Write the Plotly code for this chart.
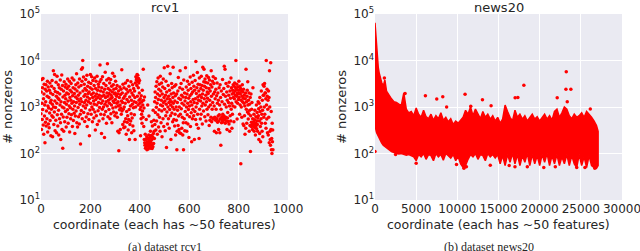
import plotly.graph_objects as go

# ---------------- data: rcv1 (nonzeros per coordinate, coordinate = index) ----------------
rcv1_nonzeros = [
    720, 2100, 330, 3900, 1200, 540, 2600, 880, 4100, 410, 1500, 260, 1900, 3100, 640, 1100, 170, 2400, 470, 1300,
    3000, 390, 820, 2200, 560, 1700, 3600, 290, 1050, 2700, 430, 950, 1600, 360, 2300, 740, 3300, 510, 1250, 2000,
    240, 1400, 900, 2800, 650, 3700, 1150, 230, 1850, 600, 6000, 1000, 420, 2500, 780, 5000, 1350, 310, 2150, 970,
    520, 3400, 1700, 280, 1200, 4600, 680, 2050, 390, 1550, 3000, 850, 250, 1450, 2600, 560, 1900, 1100, 3800, 460,
    200, 1300, 2400, 700, 4900, 330, 1000, 2900, 130, 1650, 610, 2200, 300, 950, 3500, 1250, 480, 1800, 2700, 800,
    1500, 3100, 370, 1150, 2000, 600, 2500, 870, 4000, 1350, 450, 1900, 2800, 720, 1050, 3600, 290, 1600, 2300, 960,
    560, 1400, 3200, 680, 2100, 1200, 4200, 380, 1750, 890, 2600, 510, 1300, 3800, 730, 1950, 1050, 270, 2450, 640,
    1650, 3000, 820, 1250, 5200, 460, 2200, 1500, 370, 3300, 980, 1800, 620, 2700, 1350, 430, 4000, 1150, 2000, 700,
    160, 1500, 2900, 840, 6500, 1300, 3600, 560, 7000, 10000, 2200, 1050, 4400, 760, 1700, 3100, 1250, 490, 2500, 1850,
    950, 3900, 1400, 610, 2300, 1100, 4800, 380, 1650, 2800, 720, 1950, 1300, 3400, 540, 2100, 240, 1500, 860, 2600,
    5000, 1200, 3200, 700, 1850, 4500, 1000, 2400, 480, 1600, 3700, 900, 2000, 1350, 580, 2900, 1150, 4200, 780, 1700,
    320, 2500, 1450, 3600, 650, 1900, 1100, 4600, 420, 2300, 1600, 830, 3100, 1250, 2700, 500, 1800, 980, 3500, 8000,
    1500, 2200, 700, 3900, 1200, 270, 2600, 1700, 900, 4500, 1350, 560, 2100, 1000, 3200, 1800, 680, 220, 2400, 1150,
    5600, 1600, 800, 2900, 1300, 450, 3800, 2000, 1050, 8500, 1700, 620, 2500, 1400, 4100, 880, 1950, 1200, 3300, 560,
    2300, 1500, 3900, 720, 1800, 1100, 2800, 460, 1600, 2100, 5300, 950, 1350, 3000, 780, 2400, 1250, 4600, 1900, 650,
    2000, 1450, 3600, 1000, 2500, 740, 1700, 1200, 2900, 600, 1900, 300, 1300, 1050, 2200, 115, 280, 1600, 870, 2700,
    1100, 330, 1850, 950, 2400, 700, 1350, 6300, 820, 2000, 1250, 420, 3100, 900, 1550, 360, 2600, 1000, 480, 1700,
    370, 1200, 3300, 560, 1900, 260, 2400, 800, 1450, 470, 3700, 650, 2100, 320, 1300, 540, 2800, 880, 200, 1650,
    420, 2300, 1050, 500, 3500, 720, 1400, 280, 2000, 580, 1150, 3000, 390, 1800, 960, 2500, 310, 1300, 680, 2200,
    1600, 200, 3300, 1000, 4500, 1250, 3800, 4200, 2900, 5000, 1700, 3600, 4800, 1100, 2600, 4100, 3300, 1400, 2000, 3700,
    1200, 880, 1500, 240, 1000, 560, 1750, 700, 1300, 450, 2300, 820, 1100, 600, 6500, 1400, 380, 950, 200, 1650,
    170, 150, 260, 130, 200, 165, 540, 140, 230, 120, 180, 155, 1100, 210, 125, 170, 250, 640, 145, 190,
    135, 220, 160, 300, 130, 175, 245, 480, 150, 200, 128, 390, 230, 140, 850, 270, 165, 520, 300, 210,
    1300, 420, 2100, 760, 1600, 320, 2800, 990, 500, 3500, 1200, 260, 1900, 680, 4200, 1450, 370, 2400, 870, 3100,
    600, 1750, 300, 4600, 1100, 2200, 460, 1400, 3300, 820, 230, 1900, 1050, 2700, 560, 4000, 1250, 380, 1600, 7000,
    900, 2500, 1350, 310, 1800, 650, 3600, 1150, 135, 2100, 780, 1500, 430, 7500, 1000, 2900, 560, 1700, 1250, 350,
    2300, 880, 1450, 5200, 650, 1100, 200, 1900, 1300, 3200, 740, 2600, 1000, 480, 1600, 7200, 1200, 2000, 540, 900,
    2800, 390, 1350, 700, 1750, 250, 3000, 1000, 520, 1900, 120, 300, 1250, 850, 2200, 400, 4300, 640, 1550, 330,
    1000, 280, 2600, 6000, 700, 1450, 270, 3200, 920, 1800, 350, 1200, 600, 2400, 250, 1650, 460, 120, 3800, 1100,
    560, 2000, 310, 1350, 800, 7000, 1600, 460, 2700, 1000, 300, 1900, 680, 3600, 1200, 430, 2300, 880, 1550, 220,
    3100, 1050, 620, 1750, 4400, 380, 1300, 2500, 750, 1900, 180, 1100, 3400, 560, 2100, 900, 1450, 4800, 650, 2800,
    1250, 200, 2300, 800, 3700, 1500, 540, 9500, 1000, 1950, 420, 2600, 1200, 5500, 700, 1650, 3100, 350, 1400, 2200,
    210, 4200, 900, 1800, 3000, 550, 1350, 2500, 700, 4600, 1600, 1050, 2900, 430, 1900, 7200, 1200, 2300, 820, 3500,
    6500, 1500, 2800, 620, 4000, 1100, 3400, 1800, 500, 2600, 1300, 4700, 900, 2100, 1550, 3300, 680, 1950, 4300, 1000,
    2500, 400, 3800, 1400, 520, 2200, 1100, 3000, 600, 6000, 1700, 480, 2700, 900, 3600, 1250, 550, 4500, 1900, 580,
    3200, 1050, 300, 2100, 600, 1500, 4100, 520, 2400, 900, 280, 1750, 560, 3300, 1200, 470, 2000, 640, 1400, 330,
    500, 2600, 680, 1100, 280, 3000, 560, 1600, 150, 900, 2200, 460, 620, 1300, 520, 3900, 700, 480, 1850, 580,
    2500, 640, 7500, 1150, 540, 6500, 450, 1700, 600, 3200, 1000, 500, 2100, 330, 1400, 580, 760, 2800, 490, 1250,
    1800, 430, 3400, 1050, 300, 2200, 650, 1550, 500, 4200, 900, 2600, 1200, 350, 1900, 700, 2300, 1050, 3000, 1600,
    2000, 480, 2800, 1500, 3300, 1000, 2200, 1800, 2600, 10000, 1300, 2400, 1700, 3100, 550, 2000, 1200, 2700, 1900, 1450,
    2300, 3600, 1600, 2000, 700, 2800, 1100, 1900, 2500, 60, 1400, 1000, 2200, 600, 1700, 3000, 1300, 2100, 430, 1550,
    2400, 400, 1200, 1800, 650, 1050, 260, 1500, 2000, 350, 6500, 900, 1300, 450, 1700, 2300, 780, 3500, 1100, 550,
    1400, 720, 2000, 300, 1150, 850, 400, 1600, 110, 650, 1900, 380, 470, 900, 1250, 420, 330, 560, 2600, 450,
    380, 480, 700, 300, 420, 530, 850, 360, 250, 450, 620, 400, 1100, 340, 500, 760, 420, 300, 580, 1300,
    650, 920, 200, 1200, 500, 270, 1600, 800, 380, 180, 1000, 560, 2200, 450, 700, 300, 1400, 850, 230, 3000,
    1800, 1800, 600, 2800, 1000, 3200, 700, 2000, 450, 2000, 1500, 350, 10000, 1100, 550, 2400, 1700, 280, 900, 1400,
    250, 2200, 600, 1600, 170, 6000, 1000, 300, 200, 150, 9000, 330, 800, 120, 210, 100, 450, 180, 320, 120,
]
rcv1_coord = list(range(len(rcv1_nonzeros)))

# ---------------- data: news20 (dense band envelope + isolated points) ----------------
news20_env_x = [0, 30, 60, 100, 150, 200, 300, 400, 500, 650, 800, 1000, 1200, 1400, 1600, 1800, 2000, 2300, 2600,
                2900, 3200, 3500, 3800, 4100, 4400, 4700, 5000, 5300, 5600, 5900, 6200, 6500, 6800, 7100, 7400,
                7700, 8000, 8300, 8600, 8900, 9200, 9500, 9800, 10100, 10400, 10700, 11000, 11300, 11600, 11900,
                12200, 12500, 12800, 13100, 13400, 13700, 14000, 14300, 14600, 14900, 15200, 15500, 15800, 16100,
                16400, 16700, 17000, 17300, 17600, 17900, 18200, 18500, 18800, 19100, 19400, 19700, 20000, 20300,
                20600, 20900, 21200, 21500, 21800, 22100, 22400, 22700, 23000, 23300, 23600, 23900, 24200, 24500,
                24800, 25100, 25400, 25700, 26000, 26300, 26600, 26900, 27100]
news20_upper = [65000, 55000, 40000, 30000, 20000, 14000, 10000, 7000, 5500, 4200, 3400, 2800, 3800, 2200, 1900,
                1700, 1500, 1300, 1250, 1150, 1100, 2000, 900, 750, 800, 650, 950, 700, 600, 850, 620, 560, 700,
                520, 650, 560, 750, 520, 600, 480, 560, 420, 500, 450, 520, 600, 850, 700, 1000, 650, 900, 700, 560,
                800, 600, 700, 550, 650, 500, 600, 450, 550, 1100, 800, 600, 500, 850, 600, 700, 550, 650, 500, 600,
                700, 550, 620, 500, 600, 700, 550, 650, 520, 800, 900, 600, 750, 1000, 900, 650, 560, 700, 600, 650,
                750, 600, 800, 700, 600, 500, 400, 300]
news20_lower = [400, 380, 350, 330, 300, 280, 250, 230, 210, 190, 170, 150, 140, 130, 125, 118, 110, 105, 100, 98,
                100, 95, 92, 95, 90, 85, 70, 95, 85, 100, 75, 95, 90, 70, 100, 85, 95, 72, 100, 90, 80, 95, 70, 85,
                60, 50, 55, 75, 95, 85, 100, 75, 95, 90, 70, 100, 85, 95, 80, 95, 60, 90, 55, 95, 65, 100, 60, 95,
                55, 90, 65, 100, 55, 95, 60, 90, 55, 95, 65, 100, 55, 90, 60, 95, 55, 85, 60, 95, 55, 90, 60, 50, 95,
                55, 85, 50, 90, 55, 50, 48, 55]
news20_pts_x = [0, 1140, 3650, 6120, 7500, 8230, 8700, 10940, 11630, 13050, 14100, 17020, 17350, 18080, 22130,
                23230, 23190, 23790, 23350, 26150, 2500, 5000, 10800, 11100, 14000, 17000, 18500, 20500, 24500,
                25500, 9900, 16300, 21900, 26700]
news20_pts_y = [110, 4200, 1950, 1740, 1480, 1660, 1000, 1870, 1040, 1440, 1070, 1590, 1600, 2930, 1590, 5740,
                2400, 2400, 1300, 910, 95, 62, 48, 52, 56, 52, 52, 50, 50, 50, 58, 55, 52, 48]

x_ticks_rcv1 = [0, 200, 400, 600, 800, 1000]
x_ticks_news20 = [0, 5000, 10000, 15000, 20000, 25000, 30000]
x_ticktext_news20 = ["0", "5000", "10000", "15000", "20000", "25000", "30000"]
y_tickvals = [10, 100, 1000, 10000, 100000]
y_ticktext = ["10<sup>1</sup>", "10<sup>2</sup>", "10<sup>3</sup>", "10<sup>4</sup>", "10<sup>5</sup>"]

RED = "#FF0000"
TXT = "#262626"
FONT = "DejaVu Sans"

fig = go.Figure()

fig.add_trace(go.Scatter(
    x=rcv1_coord, y=rcv1_nonzeros, mode="markers",
    marker=dict(color=RED, size=3.5, line=dict(width=0)),
    xaxis="x", yaxis="y", showlegend=False, hoverinfo="skip"))

band_x = news20_env_x + news20_env_x[::-1]
band_y = news20_upper + news20_lower[::-1]
fig.add_trace(go.Scatter(
    x=band_x, y=band_y, mode="lines", fill="toself", fillcolor=RED,
    line=dict(color=RED, width=1.5), xaxis="x2", yaxis="y2", showlegend=False, hoverinfo="skip"))
fig.add_trace(go.Scatter(
    x=news20_pts_x, y=news20_pts_y, mode="markers",
    marker=dict(color=RED, size=3.5, line=dict(width=0)),
    xaxis="x2", yaxis="y2", showlegend=False, hoverinfo="skip"))

xdom1 = [41 / 640, 288 / 640]
xdom2 = [375 / 640, 622 / 640]
ydom = [1 - 200 / 251, 1 - 14 / 251]

axis_common = dict(showgrid=True, gridcolor="white", gridwidth=1, zeroline=False, showline=False,
                   ticks="", automargin=False, ticklabeloverflow="allow",
                   tickfont=dict(family=FONT, size=12, color=TXT))

fig.update_layout(
    width=640, height=251,
    margin=dict(l=0, r=0, t=0, b=0),
    paper_bgcolor="white", plot_bgcolor="#EAEAF2",
    xaxis=dict(domain=xdom1, range=[0, 1000], tickvals=x_ticks_rcv1, anchor="y", **axis_common),
    yaxis=dict(domain=ydom, type="log", range=[1, 5], tickvals=y_tickvals, ticktext=y_ticktext,
               anchor="x", **axis_common),
    xaxis2=dict(domain=xdom2, range=[0, 30000], tickvals=x_ticks_news20, ticktext=x_ticktext_news20,
                anchor="y2", **axis_common),
    yaxis2=dict(domain=ydom, type="log", range=[1, 5], tickvals=y_tickvals, ticktext=y_ticktext,
                anchor="x2", **axis_common),
)

ann = []
def add_text(x, y, text, size, family=FONT, angle=0):
    ann.append(dict(x=x / 640, y=1 - y / 251, xref="paper", yref="paper", text=text, showarrow=False,
                    xanchor="center", yanchor="middle", textangle=angle,
                    font=dict(family=family, size=size, color=TXT)))

add_text(164.5, 8, "rcv1", 13)
add_text(498.5, 8, "news20", 13)
add_text(164.5, 224, "coordinate (each has ~50 features)", 12.5)
add_text(498.5, 224, "coordinate (each has ~50 features)", 12.5)
add_text(7, 107, "# nonzeros", 13, angle=-90)
add_text(341, 107, "# nonzeros", 13, angle=-90)
add_text(165, 247, "(a) dataset rcv1", 12, family="Liberation Serif")
add_text(489, 247, "(b) dataset news20", 12, family="Liberation Serif")
fig.update_layout(annotations=ann)

fig.write_html("out.html", config={"displayModeBar": False, "staticPlot": True},
               post_script="document.body.style.margin='0px';document.body.style.overflow='hidden';")
